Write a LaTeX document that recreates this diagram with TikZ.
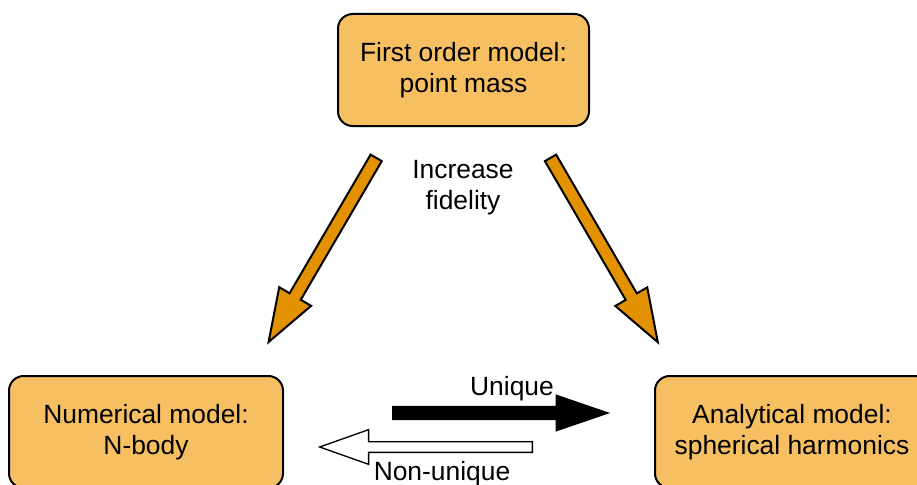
\documentclass[tikz,border=0pt]{standalone}
\usepackage{fontspec}
\setmainfont{Liberation Sans}
\usetikzlibrary{positioning,calc,shapes.arrows}
\definecolor{boxfill} {RGB}{246,191, 98}
\definecolor{fidelity}{RGB}{226,145,  0}
\newcommand\diagfontsize{\fontsize{19.8}{23.3}\selectfont}

\begin{document}
\begin{tikzpicture}[
  x=0.75pt, y=-0.75pt,
  font=\diagfontsize,
  model/.style={draw,line width=1.5pt,rounded corners=11pt,fill=boxfill,align=center,minimum height=84pt,inner sep=0pt},
  wide/.style={minimum width=205.5pt},
  blockarrow/.style={single arrow,draw,line width=1.5pt,inner xsep=0pt,inner ysep=4.1pt,anchor=tail,
    single arrow head extend=9pt,single arrow tip angle=38.6,minimum height=160pt},
  fidelityarrow/.style={blockarrow,fill=fidelity},
]

  % Page
  \clip (0,0) rectangle (917,485);

  \node[model,minimum width=188.25pt] (firstorder) at (463.5,70) {First order model:\\point mass};

  \node[model,wide] (numerical) at (146,432) {Numerical model:\\N-body};

  \node[model,wide] (analytical) at (792,432) {Analytical model:\\spherical harmonics};

  % Increase fidelity
  \node[fidelityarrow,rotate=239.7] (toleft) at (376.7,157) {};
  \node[fidelityarrow,rotate=300.2] (toright) at (550,157) {};
  \node[align=center] (fidelitylabel) at (463,187.5) {Increase\\fidelity};

  % Unique / non-unique
  \node[blockarrow,fill=black,line width=1pt,inner ysep=4.4pt,single arrow head extend=8.4pt,
        single arrow tip angle=37.8,minimum height=161.5pt] (unique) at (392,413) {};
  \node[blockarrow,fill=white,line width=1pt,inner ysep=3.5pt,single arrow head extend=9pt,
        single arrow tip angle=39,minimum height=159.5pt,rotate=180] (nonunique) at (533,447) {};

  \node (uniquelabel) at (512,389) {Unique};
  \node (nonuniquelabel) at (442,474) {Non-unique};

\end{tikzpicture}
\end{document}
